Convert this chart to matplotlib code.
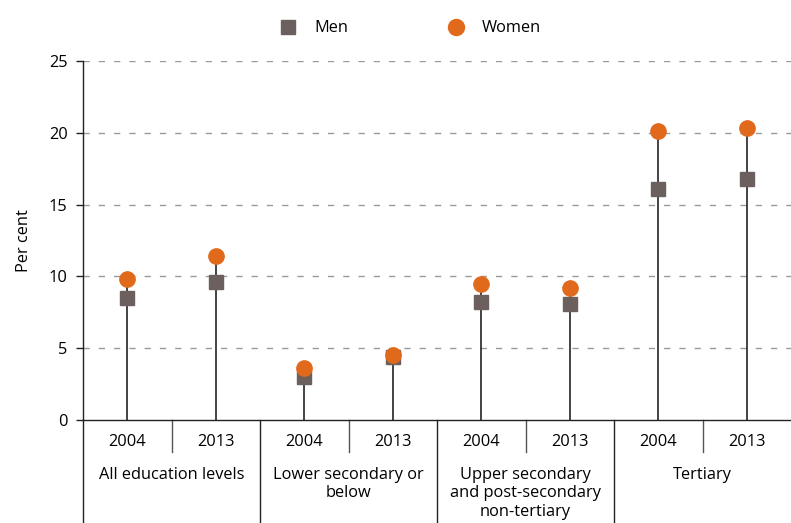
import matplotlib
matplotlib.use("Agg")
import matplotlib.pyplot as plt
from matplotlib.lines import Line2D
import matplotlib.transforms as mtransforms

plt.rcParams['font.family'] = ['Open Sans', 'DejaVu Sans']

years = ["2004", "2013", "2004", "2013", "2004", "2013", "2004", "2013"]
groups = ["All education levels", "Lower secondary or\nbelow",
          "Upper secondary\nand post-secondary\nnon-tertiary", "Tertiary"]
series = ["Men", "Women"]
men = [8.5, 9.6, 3.0, 4.4, 8.2, 8.1, 16.1, 16.8]
women = [9.8, 11.4, 3.6, 4.5, 9.5, 9.2, 20.1, 20.3]

men_color = "#6b605e"
women_color = "#e0691c"
FS = 11.8

fig = plt.figure(figsize=(7.91, 5.23), dpi=100)
ax = fig.add_axes([83/791, 1 - 420/523, (791-83)/791, 359/523])

x = list(range(len(years)))
tops = [max(m, w) for m, w in zip(men, women)]
ax.vlines(x, 0, tops, color="#111111", linewidth=1.1, zorder=2)
ax.plot(x, men, linestyle="none", marker="s", markersize=9.5, color=men_color, zorder=3)
ax.plot(x, women, linestyle="none", marker="o", markersize=11, color=women_color, zorder=4)

ax.set_xlim(-0.5, len(years) - 0.5)
ax.set_ylim(0, 25)
ax.set_yticks([0, 5, 10, 15, 20, 25])
for yv in [5, 10, 15, 20, 25]:
    ax.axhline(yv, color="#9a9a9a", linewidth=1.0, dashes=(4.5, 6.5), zorder=1)

for s in ["top", "right"]:
    ax.spines[s].set_visible(False)
ax.spines["left"].set_linewidth(1.0)
ax.spines["left"].set_color("#222222")
ax.spines["bottom"].set_linewidth(1.0)
ax.spines["bottom"].set_color("#222222")
ax.set_xticks([])
ax.tick_params(axis="y", length=5, width=1.0, color="#222222", labelsize=FS, pad=6)
ax.set_ylabel("Per cent", fontsize=FS, labelpad=12)

trans = mtransforms.blended_transform_factory(ax.transData, ax.transAxes)
for xs in [0.5, 2.5, 4.5, 6.5]:
    ax.add_line(Line2D([xs, xs], [0, -32/359], transform=trans, color="#555555",
                       linewidth=1.0, clip_on=False))
for xs in [-0.5, 1.5, 3.5, 5.5]:
    ax.add_line(Line2D([xs, xs], [0, -103/359], transform=trans, color="#222222",
                       linewidth=1.0, clip_on=False))

for xi, yr in zip(x, years):
    ax.text(xi, -22/359, yr, transform=trans, ha="center", va="center", fontsize=FS)
for gi, g in enumerate(groups):
    ax.text(2 * gi + 0.5, -47/359, g, transform=trans, ha="center", va="top",
            fontsize=FS, linespacing=1.2)

# legend drawn in figure pixel coordinates
ly = 1 - 27/523
fig.add_artist(Line2D([288/791], [ly], linestyle="none", marker="s", markersize=10,
                      color=men_color, transform=fig.transFigure))
fig.text(314/791, ly - 1/523, series[0], ha="left", va="center", fontsize=FS)
fig.add_artist(Line2D([456/791], [ly], linestyle="none", marker="o", markersize=11.5,
                      color=women_color, transform=fig.transFigure))
fig.text(482/791, ly - 1/523, series[1], ha="left", va="center", fontsize=FS)

fig.savefig("out.png", dpi=100)
